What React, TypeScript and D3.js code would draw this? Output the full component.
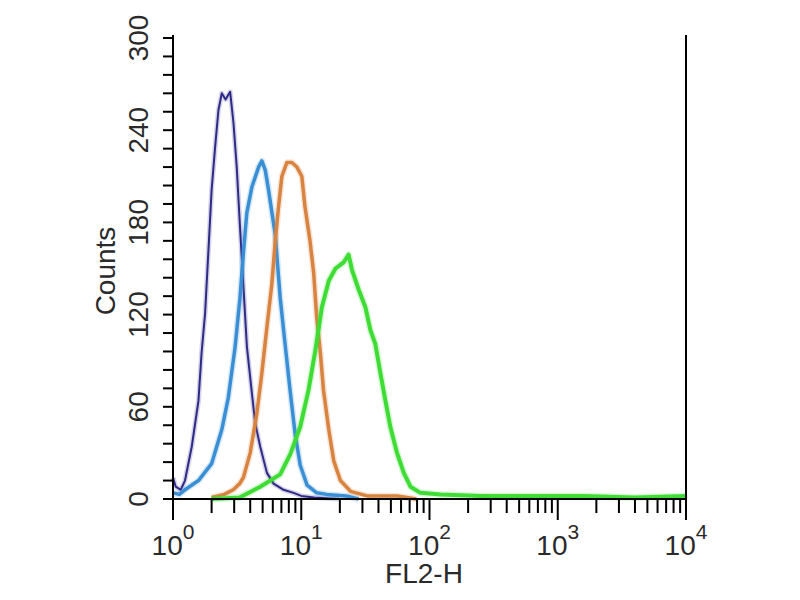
import React, { useEffect, useRef } from 'react';
import * as d3 from 'd3';

// FL2-H channel value / counts
const isotypeFL2 = [1.0, 1.05, 1.15, 1.24, 1.4, 1.58, 1.67, 1.78, 1.89, 2.0, 2.13, 2.26, 2.4, 2.57, 2.79, 2.96, 3.14, 3.33, 3.77, 4.12, 4.38, 4.79, 5.4, 6.08, 7.28, 8.71, 10, 12.6, 20];
const isotypeCounts = [14, 8, 6, 12, 34, 64, 95, 121, 162, 201, 229, 253, 264, 260, 265, 245, 216, 177, 99, 69, 49, 34, 17, 10, 6, 4, 2, 1, 0];

const blueFL2 = [1.0, 1.12, 1.24, 1.58, 2.0, 2.4, 2.7, 3.05, 3.33, 3.54, 3.76, 4.12, 4.65, 4.93, 5.24, 5.56, 6.27, 6.85, 7.5, 8.2, 8.97, 9.82, 11.1, 13.2, 15.8, 22.4, 28];
const blueCounts = [4, 3, 6, 12, 23, 45, 66, 99, 131, 160, 186, 203, 216, 220, 214, 201, 172, 131, 100, 70, 42, 22, 9, 4, 3, 2, 0];

const orangeFL2 = [2.0, 2.51, 2.95, 3.31, 3.54, 4.0, 4.51, 4.93, 5.4, 5.9, 6.27, 6.65, 7.06, 7.73, 8.45, 9.25, 10.1, 10.7, 11.7, 12.5, 13.2, 14.1, 14.9, 16.4, 17.9, 20.2, 24.2, 32.6, 56, 79];
const orangeCounts = [1, 3, 6, 10, 14, 30, 56, 82, 112, 140, 168, 190, 210, 219, 219, 216, 210, 190, 168, 147, 118, 95, 71, 45, 25, 12, 5, 2, 2, 0];

const greenFL2 = [2.0, 3.31, 4.79, 6.85, 8.2, 9.82, 11.4, 12.9, 14.5, 16.4, 18.5, 21.4, 23.4, 24.9, 28.1, 31.6, 34.6, 37.8, 41.4, 45.3, 49.5, 55.8, 63.0, 71.1, 85.1, 122, 251, 631, 1585, 3981, 10000];
const greenCounts = [0, 1, 8, 16, 29, 47, 71, 97, 125, 142, 150, 154, 159, 149, 136, 125, 110, 101, 82, 64, 47, 30, 17, 8, 4, 3, 2, 2, 2, 1, 2];

const seriesColors = ['#2e2a86', '#3a8fd4', '#d8833f', '#3fdc35'];
const seriesWidths = [2, 3.5, 3.5, 4];

const yLabelTicks = [0, 60, 120, 180, 240, 300];
const decades = [0, 1, 2, 3, 4];

export default function App() {
    const svgRef = useRef<SVGSVGElement | null>(null);

    useEffect(() => {
        if (!svgRef.current) return;
        const svg = d3.select(svgRef.current);
        svg.selectAll('*').remove();

        const left = 173, right = 686, top = 38, bottom = 499;
        const font = '"Liberation Sans", Arial, sans-serif';
        const textColor = '#2a2a2a';

        const x = d3.scaleLog().domain([1, 10000]).range([left, right]);
        const y = d3.scaleLinear().domain([0, 300]).range([bottom, top]);

        svg.append('rect').attr('width', 800).attr('height', 600).attr('fill', '#fff');

        // histograms
        const series = [
            { xs: isotypeFL2, ys: isotypeCounts },
            { xs: blueFL2, ys: blueCounts },
            { xs: orangeFL2, ys: orangeCounts },
            { xs: greenFL2, ys: greenCounts },
        ];
        const line = d3.line<[number, number]>()
            .x(d => x(d[0]))
            .y(d => y(d[1]))
            .curve(d3.curveLinear);

        series.forEach((s, i) => {
            const pts = s.xs.map((v, j) => [v, s.ys[j]] as [number, number]);
            // soft halo like the original scan
            svg.append('path')
                .attr('d', line(pts))
                .attr('fill', 'none')
                .attr('stroke', seriesColors[i])
                .attr('stroke-opacity', 0.2)
                .attr('stroke-width', seriesWidths[i] + 3)
                .attr('stroke-linejoin', 'round');
            svg.append('path')
                .attr('d', line(pts))
                .attr('fill', 'none')
                .attr('stroke', seriesColors[i])
                .attr('stroke-width', seriesWidths[i])
                .attr('stroke-linejoin', 'round');
        });

        // axis frame (left, bottom, right)
        const axis = svg.append('g').attr('stroke', '#000').attr('stroke-width', 2).attr('fill', 'none');
        axis.append('path').attr('d', `M${left},35V${bottom}H${right}V35`);

        // y ticks
        axis.selectAll('.ytick')
            .data(d3.range(0, 301, 12))
            .join('line')
            .attr('x1', left - 10).attr('x2', left)
            .attr('y1', d => y(d)).attr('y2', d => y(d));

        // x ticks (log minor + decades)
        const xTicks: { v: number; major: boolean }[] = [];
        decades.forEach(k => {
            xTicks.push({ v: Math.pow(10, k), major: true });
            if (k < 4) for (let m = 2; m <= 9; m++) xTicks.push({ v: m * Math.pow(10, k), major: false });
        });
        axis.selectAll('.xtick')
            .data(xTicks)
            .join('line')
            .attr('x1', d => x(d.v)).attr('x2', d => x(d.v))
            .attr('y1', bottom).attr('y2', d => d.major ? bottom + 21 : bottom + 14);

        // y tick labels
        svg.selectAll('.ylab')
            .data(yLabelTicks)
            .join('text')
            .attr('transform', d => `translate(148,${y(d)}) rotate(-90)`)
            .attr('text-anchor', 'middle')
            .attr('font-family', font)
            .attr('font-size', 28)
            .attr('fill', textColor)
            .text(d => d);

        // x tick labels 10^k
        const xl = svg.selectAll('.xlab')
            .data(decades)
            .join('text')
            .attr('x', d => x(Math.pow(10, d)))
            .attr('y', 555)
            .attr('text-anchor', 'middle')
            .attr('font-family', font)
            .attr('fill', textColor);
        xl.append('tspan').attr('font-size', 28).text('10');
        xl.append('tspan').attr('font-size', 21).attr('dy', -16).text(d => d);

        // axis titles
        svg.append('text')
            .attr('x', 424).attr('y', 583)
            .attr('text-anchor', 'middle')
            .attr('font-family', font)
            .attr('font-size', 28)
            .attr('fill', textColor)
            .text('FL2-H');

        svg.append('text')
            .attr('transform', 'translate(115,271) rotate(-90)')
            .attr('text-anchor', 'middle')
            .attr('font-family', font)
            .attr('font-size', 28)
            .attr('fill', textColor)
            .text('Counts');
    }, []);

    return (
        <svg
            ref={svgRef}
            width={800}
            height={600}
            viewBox="0 0 800 600"
            style={{ position: 'absolute', left: 0, top: 0, display: 'block' }}
        />
    );
}
